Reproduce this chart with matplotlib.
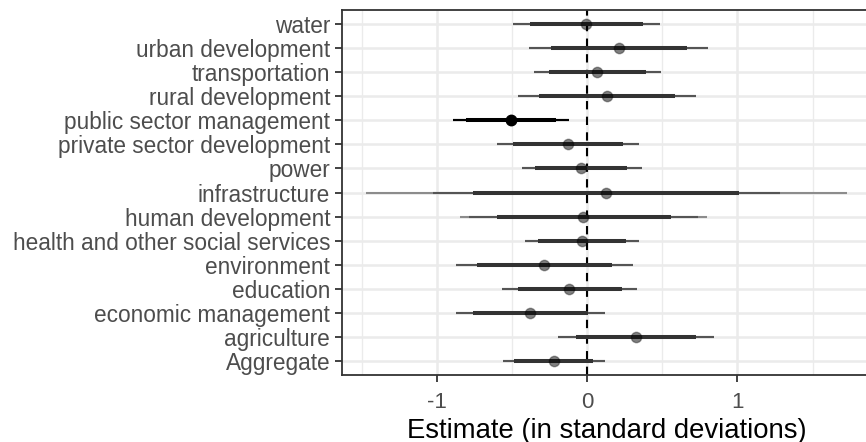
import matplotlib.pyplot as plt
from matplotlib.ticker import MultipleLocator

plt.rcParams['font.family'] = ['Liberation Sans', 'DejaVu Sans']

# rows listed bottom -> top
categories = ["Aggregate", "agriculture", "economic management", "education",
              "environment", "health and other social services", "human development",
              "infrastructure", "power", "private sector development",
              "public sector management", "rural development", "transportation",
              "urban development", "water"]

estimate = [-0.218, 0.326, -0.379, -0.118, -0.284, -0.036, -0.029, 0.124,
            -0.040, -0.126, -0.508, 0.131, 0.069, 0.211, -0.005]

# thick bar
lo_thick = [-0.484, -0.075, -0.761, -0.461, -0.734, -0.324, -0.600, -0.756,
            -0.346, -0.494, -0.805, -0.319, -0.255, -0.242, -0.380]
hi_thick = [0.042, 0.725, 0.004, 0.231, 0.168, 0.260, 0.559, 1.007,
            0.268, 0.242, -0.206, 0.585, 0.393, 0.663, 0.375]

# thin bar
lo_thin = [-0.557, -0.195, -0.874, -0.563, -0.874, -0.413, -0.783, -1.027,
           -0.435, -0.597, -0.894, -0.457, -0.350, -0.386, -0.490]
hi_thin = [0.120, 0.847, 0.120, 0.330, 0.308, 0.346, 0.737, 1.280,
           0.364, 0.346, -0.122, 0.725, 0.490, 0.807, 0.486]

# widest (lighter) bar
lo_wide = [-0.557, -0.195, -0.874, -0.563, -0.874, -0.413, -0.845, -1.470,
           -0.435, -0.597, -0.894, -0.457, -0.350, -0.386, -0.490]
hi_wide = [0.120, 0.847, 0.120, 0.330, 0.308, 0.346, 0.796, 1.728,
           0.364, 0.346, -0.122, 0.725, 0.490, 0.807, 0.486]

highlight = ["public sector management"]

fig = plt.figure(figsize=(8.66, 4.42), dpi=100)
ax = fig.add_axes([342/866, 67/442, 529/866, 365/442])

ax.set_xlim(-1.63, 1.888)
ax.set_ylim(0.4, len(categories) + 0.6)

# grid
ax.xaxis.set_major_locator(MultipleLocator(1))
ax.xaxis.set_minor_locator(MultipleLocator(0.5))
ax.grid(which='major', color='#ebebeb', linewidth=1.8, zorder=0)
ax.grid(which='minor', axis='x', color='#ebebeb', linewidth=1.0, zorder=0)
ax.set_axisbelow(True)

ax.axvline(0, color='black', linewidth=1.5, linestyle=(0, (4, 3.5)), zorder=2)

for i, cat in enumerate(categories):
    y = i + 1
    if cat in highlight:
        c_wide, c_thin, c_thick = 'black', 'black', 'black'
        fc, ec = 'black', 'black'
    else:
        c_wide, c_thin, c_thick = '#8c8c8c', '#555555', '#333333'
        fc, ec = (0, 0, 0, 0.5), (0, 0, 0, 0.35)
    ax.plot([lo_wide[i], hi_wide[i]], [y, y], color=c_wide, linewidth=1.5,
            solid_capstyle='butt', zorder=3)
    ax.plot([lo_thin[i], hi_thin[i]], [y, y], color=c_thin, linewidth=1.5,
            solid_capstyle='butt', zorder=3)
    ax.plot([lo_thick[i], hi_thick[i]], [y, y], color=c_thick, linewidth=2.9,
            solid_capstyle='butt', zorder=4)
    ax.plot(estimate[i], y, 'o', markersize=7.5, markerfacecolor=fc,
            markeredgecolor=ec, markeredgewidth=1.0, zorder=5)

ax.set_yticks(range(1, len(categories) + 1))
ax.set_yticklabels(categories)
ax.set_xticks([-1, 0, 1])
ax.set_xticklabels(['-1', '0', '1'])

ax.tick_params(axis='both', which='major', length=5, width=1.3, color='#333333',
               labelcolor='#4d4d4d', pad=3)
ax.tick_params(axis='y', labelsize=16.3, pad=3.5)
ax.tick_params(axis='x', labelsize=16.0, pad=7.5)
ax.tick_params(axis='x', which='minor', length=0)

for s in ax.spines.values():
    s.set_color('#333333')
    s.set_linewidth(1.3)

ax.set_xlabel("Estimate (in standard deviations)", fontsize=19.8, color='black', labelpad=3)

fig.savefig('out.png', dpi=100)
